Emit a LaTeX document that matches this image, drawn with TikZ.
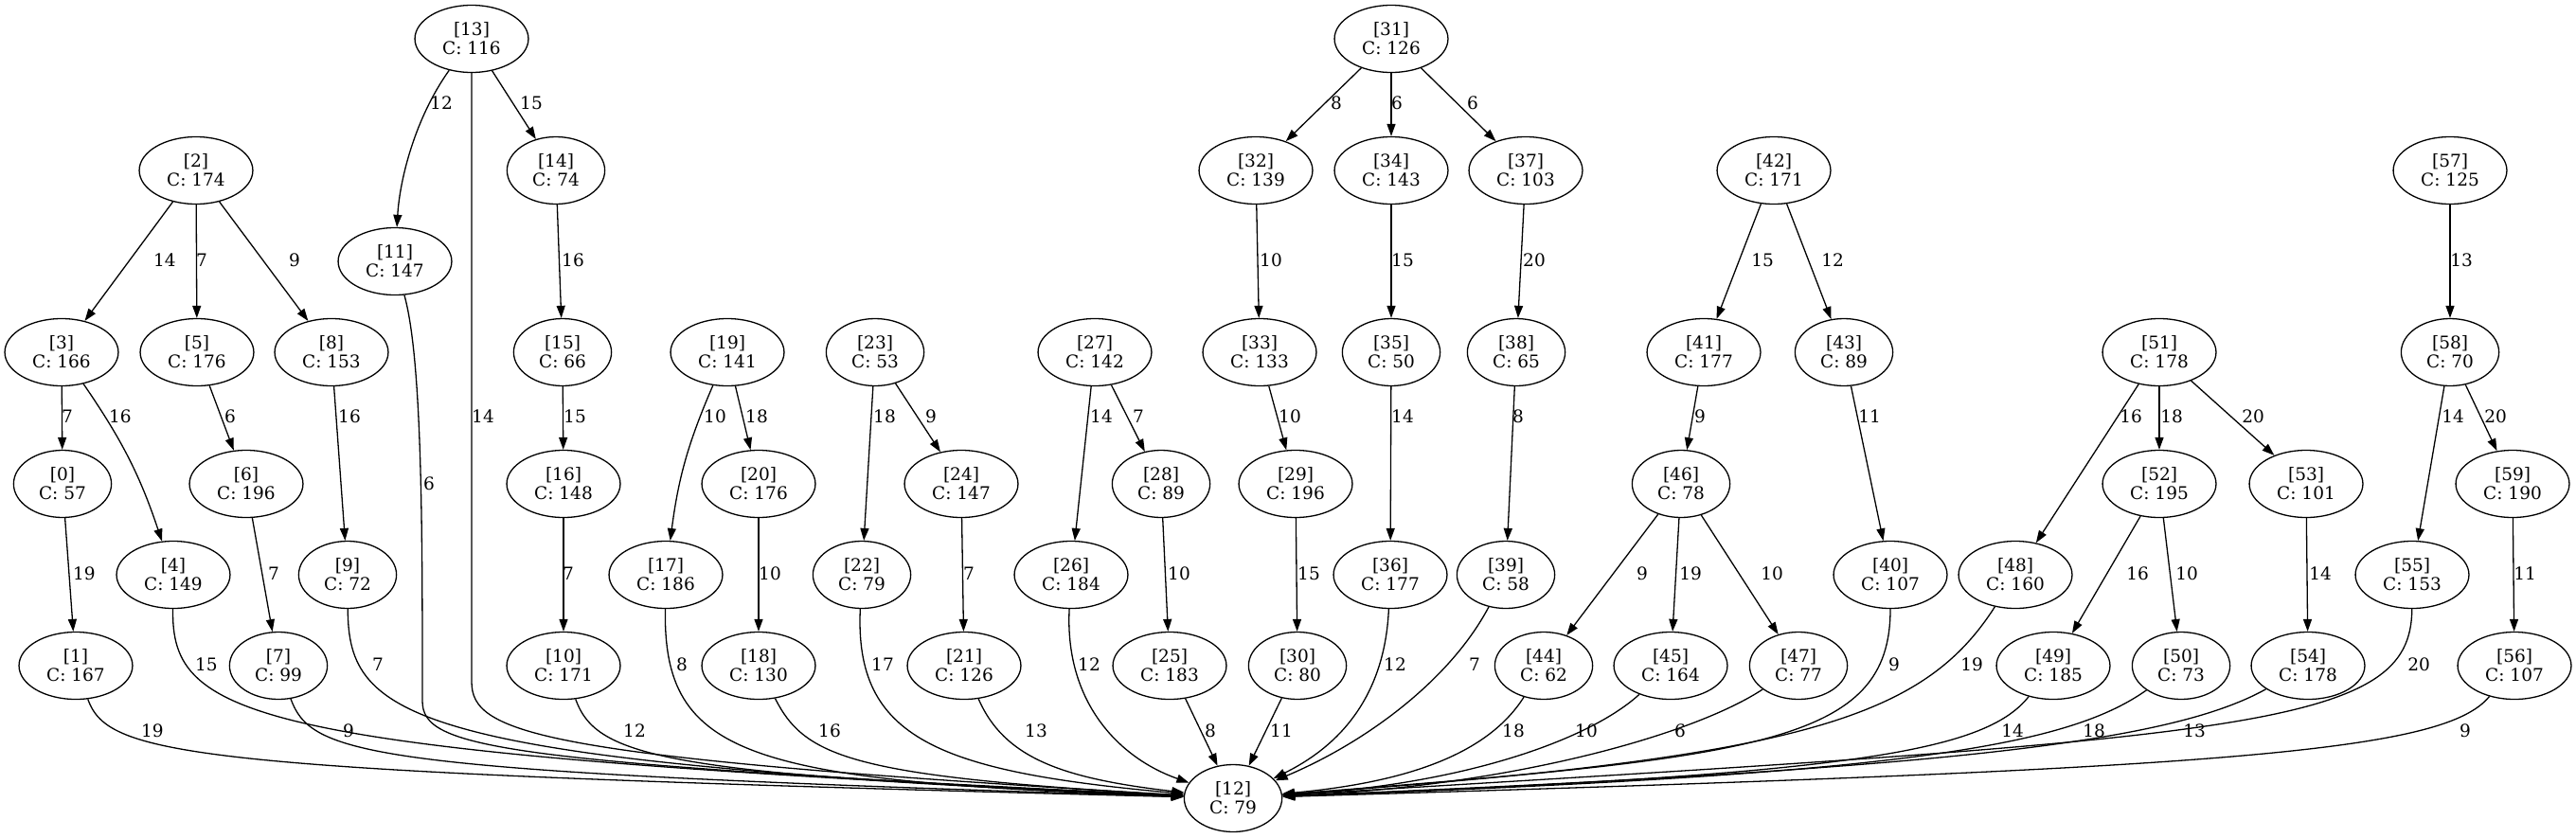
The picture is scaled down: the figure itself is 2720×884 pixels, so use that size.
\documentclass[tikz,border=0pt]{standalone}
\usepackage{fontspec}
\setmainfont{DejaVu Serif}
\usetikzlibrary{arrows.meta,shapes.geometric}

\begin{document}
\begin{tikzpicture}[x=1pt,y=-1pt,
   cnode/.style={ellipse,draw,line width=1.3pt,minimum height=71pt,
    inner xsep=11.6pt,inner ysep=2pt,align=center,
    font=\fontsize{18.5}{20}\selectfont},
   link/.style={line width=1.3pt,-{Triangle[length=13pt,width=9pt]}},
   wlbl/.style={inner sep=0pt,font=\fontsize{18.5}{20}\selectfont}
    ]
  \useasboundingbox (0,0) rectangle (2720,884);

  % -- top row
  \node[cnode] at (498,41) (n13) {[13]\\C: 116};
  \node[cnode] at (1469,41) (n31) {[31]\\C: 126};

  % -- second row
  \node[cnode] at (207,180) (n2) {[2]\\C: 174};
  \node[cnode] at (587,180) (n14) {[14]\\C: 74};
  \node[cnode] at (1326,180) (n32) {[32]\\C: 139};
  \node[cnode] at (1469,180) (n34) {[34]\\C: 143};
  \node[cnode] at (1611,180) (n37) {[37]\\C: 103};
  \node[cnode] at (1873,180) (n42) {[42]\\C: 171};
  \node[cnode] at (2587,180) (n57) {[57]\\C: 125};
  \node[cnode] at (417,276) (n11) {[11]\\C: 147};

  % -- third row
  \node[cnode] at (65,372) (n3) {[3]\\C: 166};
  \node[cnode] at (208,372) (n5) {[5]\\C: 176};
  \node[cnode] at (350,372) (n8) {[8]\\C: 153};
  \node[cnode] at (594,372) (n15) {[15]\\C: 66};
  \node[cnode] at (768,372) (n19) {[19]\\C: 141};
  \node[cnode] at (924,372) (n23) {[23]\\C: 53};
  \node[cnode] at (1156,372) (n27) {[27]\\C: 142};
  \node[cnode] at (1330,372) (n33) {[33]\\C: 133};
  \node[cnode] at (1469,372) (n35) {[35]\\C: 50};
  \node[cnode] at (1601,372) (n38) {[38]\\C: 65};
  \node[cnode] at (1799,372) (n41) {[41]\\C: 177};
  \node[cnode] at (1947,372) (n43) {[43]\\C: 89};
  \node[cnode] at (2280,372) (n51) {[51]\\C: 178};
  \node[cnode] at (2587,372) (n58) {[58]\\C: 70};

  % -- fourth row
  \node[cnode] at (66,511) (n0) {[0]\\C: 57};
  \node[cnode] at (260,511) (n6) {[6]\\C: 196};
  \node[cnode] at (595,511) (n16) {[16]\\C: 148};
  \node[cnode] at (801,511) (n20) {[20]\\C: 176};
  \node[cnode] at (1015,511) (n24) {[24]\\C: 147};
  \node[cnode] at (1226,511) (n28) {[28]\\C: 89};
  \node[cnode] at (1368,511) (n29) {[29]\\C: 196};
  \node[cnode] at (1775,511) (n46) {[46]\\C: 78};
  \node[cnode] at (2280,511) (n52) {[52]\\C: 195};
  \node[cnode] at (2435,511) (n53) {[53]\\C: 101};
  \node[cnode] at (2653,511) (n59) {[59]\\C: 190};

  % -- fifth row
  \node[cnode] at (183,607) (n4) {[4]\\C: 149};
  \node[cnode] at (367,607) (n9) {[9]\\C: 72};
  \node[cnode] at (703,607) (n17) {[17]\\C: 186};
  \node[cnode] at (910,607) (n22) {[22]\\C: 79};
  \node[cnode] at (1131,607) (n26) {[26]\\C: 184};
  \node[cnode] at (1468,607) (n36) {[36]\\C: 177};
  \node[cnode] at (1590,607) (n39) {[39]\\C: 58};
  \node[cnode] at (1996,607) (n40) {[40]\\C: 107};
  \node[cnode] at (2128,607) (n48) {[48]\\C: 160};
  \node[cnode] at (2547,607) (n55) {[55]\\C: 153};

  % -- sixth row
  \node[cnode] at (80,703) (n1) {[1]\\C: 167};
  \node[cnode] at (294,703) (n7) {[7]\\C: 99};
  \node[cnode] at (595,703) (n10) {[10]\\C: 171};
  \node[cnode] at (801,703) (n18) {[18]\\C: 130};
  \node[cnode] at (1018,703) (n21) {[21]\\C: 126};
  \node[cnode] at (1235,703) (n25) {[25]\\C: 183};
  \node[cnode] at (1370,703) (n30) {[30]\\C: 80};
  \node[cnode] at (1630,703) (n44) {[44]\\C: 62};
  \node[cnode] at (1764,703) (n45) {[45]\\C: 164};
  \node[cnode] at (1899,703) (n47) {[47]\\C: 77};
  \node[cnode] at (2168,703) (n49) {[49]\\C: 185};
  \node[cnode] at (2303,703) (n50) {[50]\\C: 73};
  \node[cnode] at (2437,703) (n54) {[54]\\C: 178};
  \node[cnode] at (2655,703) (n56) {[56]\\C: 107};

  % -- sink
  \node[cnode] at (1302,843) (n12) {[12]\\C: 79};

  % -- bends of the two long lines
  \coordinate (k13) at (498,720);
  \coordinate (k11) at (446,740);

  % -- tree edges
  \draw[link] (n2) -- (n3) node[wlbl] (w2-3) at (174,275) {14};
  \draw[link] (n2) -- (n5) node[wlbl] (w2-5) at (213,275) {7};
  \draw[link] (n2) -- (n8) node[wlbl] (w2-8) at (311,275) {9};
  \draw[link] (n3) -- (n0) node[wlbl] (w3-0) at (71,440) {7};
  \draw[link] (n3) to[bend left=8] (n4);
  \node[wlbl] (w3-4) at (127,440) {16};
  \draw[link] (n5) -- (n6) node[wlbl] (w5-6) at (243,440) {6};
  \draw[link] (n8) -- (n9) node[wlbl] (w8-9) at (369,440) {16};
  \draw[link] (n0) -- (n1) node[wlbl] (w0-1) at (89,606) {19};
  \draw[link] (n6) -- (n7) node[wlbl] (w6-7) at (289,606) {7};

  \draw[link] (n13) .. controls (438,125) and (422,190) .. (n11)
    node[wlbl] (w13-11) at (466,109) {12};
  \draw[link] (n13) -- (n14) node[wlbl] (w13-14) at (561,109) {15};
  \draw[link] (n14) -- (n15) node[wlbl] (w14-15) at (605,275) {16};
  \draw[link] (n15) -- (n16) node[wlbl] (w15-16) at (607,440) {15};
  \draw[link] (n16) -- (n10) node[wlbl] (w16-10) at (600,606) {7};

  \draw[link] (n19) to[bend right=8] (n17);
  \node[wlbl] (w19-17) at (755,440) {10};
  \draw[link] (n19) -- (n20) node[wlbl] (w19-20) at (799,440) {18};
  \draw[link] (n20) -- (n18) node[wlbl] (w20-18) at (813,606) {10};

  \draw[link] (n23) -- (n22) node[wlbl] (w23-22) at (934,440) {18};
  \draw[link] (n23) -- (n24) node[wlbl] (w23-24) at (983,440) {9};
  \draw[link] (n24) -- (n21) node[wlbl] (w24-21) at (1023,606) {7};

  \draw[link] (n27) -- (n26) node[wlbl] (w27-26) at (1163,440) {14};
  \draw[link] (n27) -- (n28) node[wlbl] (w27-28) at (1202,440) {7};
  \draw[link] (n28) -- (n25) node[wlbl] (w28-25) at (1245,606) {10};

  \draw[link] (n31) -- (n32) node[wlbl] (w31-32) at (1411,109) {8};
  \draw[link] (n31) -- (n34) node[wlbl] (w31-34) at (1475,109) {6};
  \draw[link] (n31) -- (n37) node[wlbl] (w31-37) at (1555,109) {6};
  \draw[link] (n32) -- (n33) node[wlbl] (w32-33) at (1342,275) {10};
  \draw[link] (n33) -- (n29) node[wlbl] (w33-29) at (1362,440) {10};
  \draw[link] (n29) -- (n30) node[wlbl] (w29-30) at (1382,606) {15};
  \draw[link] (n34) -- (n35) node[wlbl] (w34-35) at (1481,275) {15};
  \draw[link] (n35) -- (n36) node[wlbl] (w35-36) at (1481,440) {14};
  \draw[link] (n37) -- (n38) node[wlbl] (w37-38) at (1620,275) {20};
  \draw[link] (n38) -- (n39) node[wlbl] (w38-39) at (1603,440) {8};

  \draw[link] (n42) -- (n41) node[wlbl] (w42-41) at (1861,275) {15};
  \draw[link] (n42) -- (n43) node[wlbl] (w42-43) at (1935,275) {12};
  \draw[link] (n41) -- (n46) node[wlbl] (w41-46) at (1795,440) {9};
  \draw[link] (n43) -- (n40) node[wlbl] (w43-40) at (1974,440) {11};
  \draw[link] (n46) -- (n44) node[wlbl] (w46-44) at (1734,606) {9};
  \draw[link] (n46) -- (n45) node[wlbl] (w46-45) at (1785,606) {19};
  \draw[link] (n46) -- (n47) node[wlbl] (w46-47) at (1871,606) {10};

  \draw[link] (n51) -- (n48) node[wlbl] (w51-48) at (2250,440) {16};
  \draw[link] (n51) -- (n52) node[wlbl] (w51-52) at (2293,440) {18};
  \draw[link] (n51) -- (n53) node[wlbl] (w51-53) at (2379,440) {20};
  \draw[link] (n52) -- (n49) node[wlbl] (w52-49) at (2257,606) {16};
  \draw[link] (n52) -- (n50) node[wlbl] (w52-50) at (2309,606) {10};
  \draw[link] (n53) -- (n54) node[wlbl] (w53-54) at (2450,606) {14};

  \draw[link] (n57) -- (n58) node[wlbl] (w57-58) at (2599,275) {13};
  \draw[link] (n58) -- (n55) node[wlbl] (w58-55) at (2590,440) {14};
  \draw[link] (n58) -- (n59) node[wlbl] (w58-59) at (2635,440) {20};
  \draw[link] (n59) -- (n56) node[wlbl] (w59-56) at (2666,606) {11};

  % -- everything into [12], from the left
  \draw[link] (n1) .. controls (115,800) and (200,815) .. (n12)
    node[wlbl] (w1-12) at (161,772) {19};
  \draw[link] (n4) .. controls (181,760) and (260,795) .. (n12)
    node[wlbl] (w4-12) at (218,702) {15};
  \draw[link] (n7) .. controls (330,800) and (390,815) .. (n12)
    node[wlbl] (w7-12) at (368,772) {9};
  \draw[link] (n9) .. controls (368,760) and (430,805) .. (n12)
    node[wlbl] (w9-12) at (399,702) {7};
  \draw[link] (n11) .. controls (446,380) and (446,560) .. (k11)
    .. controls (446,790) and (520,805) .. (n12)
    node[wlbl] (w11-12) at (453,511) {6};
  \draw[link] (n13) -- (k13) .. controls (498,775) and (570,800) .. (n12)
    node[wlbl] (w13-12) at (510,440) {14};
  \draw[link] (n10) .. controls (630,800) and (700,818) .. (n12)
    node[wlbl] (w10-12) at (670,772) {12};
  \draw[link] (n17) .. controls (700,800) and (790,825) .. (n12)
    node[wlbl] (w17-12) at (720,702) {8};
  \draw[link] (n18) .. controls (850,800) and (900,820) .. (n12)
    node[wlbl] (w18-12) at (876,772) {16};
  \draw[link] (n22) .. controls (902,780) and (990,815) .. (n12)
    node[wlbl] (w22-12) at (932,702) {17};
  \draw[link] (n21) .. controls (1060,800) and (1120,822) .. (n12)
    node[wlbl] (w21-12) at (1094,772) {13};
  \draw[link] (n26) .. controls (1124,740) and (1180,800) .. (n12)
    node[wlbl] (w26-12) at (1150,702) {12};
  \draw[link] (n25) -- (n12) node[wlbl] (w25-12) at (1278,772) {8};

  % -- everything into [12], from the right
  \draw[link] (n30) -- (n12) node[wlbl] (w30-12) at (1353,772) {11};
  \draw[link] (n36) .. controls (1462,740) and (1410,790) .. (n12)
    node[wlbl] (w36-12) at (1473,702) {12};
  \draw[link] (n39) .. controls (1530,720) and (1440,785) .. (n12)
    node[wlbl] (w39-12) at (1557,702) {7};
  \draw[link] (n44) .. controls (1575,790) and (1500,825) .. (n12)
    node[wlbl] (w44-12) at (1598,772) {18};
  \draw[link] (n45) .. controls (1680,780) and (1550,828) .. (n12)
    node[wlbl] (w45-12) at (1675,772) {10};
  \draw[link] (n47) .. controls (1790,775) and (1600,830) .. (n12)
    node[wlbl] (w47-12) at (1774,772) {6};
  \draw[link] (n40) .. controls (1996,785) and (1860,800) .. (n12)
    node[wlbl] (w40-12) at (2000,702) {9};
  \draw[link] (n48) .. controls (2030,760) and (1900,800) .. (n12)
    node[wlbl] (w48-12) at (2082,702) {19};
  \draw[link] (n49) .. controls (2095,795) and (1950,818) .. (n12)
    node[wlbl] (w49-12) at (2125,772) {14};
  \draw[link] (n50) .. controls (2180,790) and (2000,818) .. (n12)
    node[wlbl] (w50-12) at (2211,772) {18};
  \draw[link] (n54) .. controls (2290,785) and (2050,812) .. (n12)
    node[wlbl] (w54-12) at (2317,772) {13};
  \draw[link] (n55) .. controls (2546,770) and (2380,778) .. (n12)
    node[wlbl] (w55-12) at (2554,702) {20};
  \draw[link] (n56) .. controls (2580,795) and (2350,812) .. (n12)
    node[wlbl] (w56-12) at (2603,772) {9};
\end{tikzpicture}
\end{document}
